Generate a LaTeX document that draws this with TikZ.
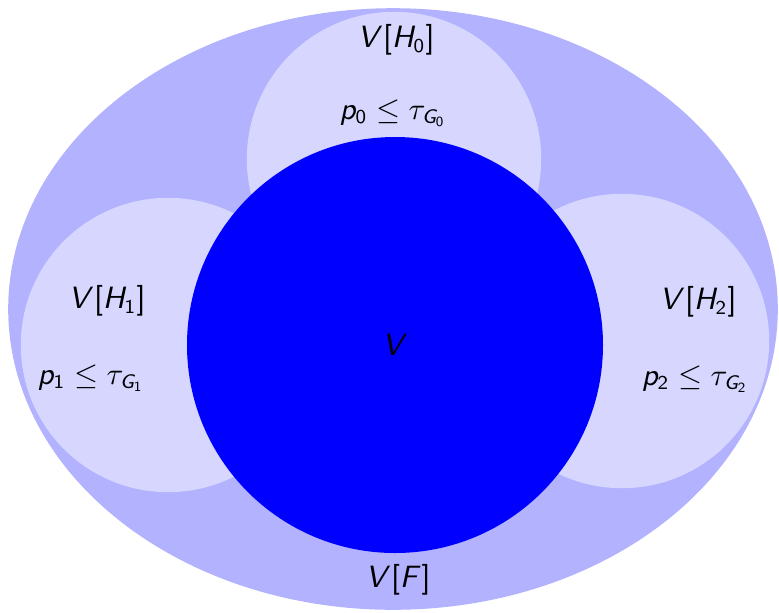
\documentclass[tikz,border=0pt]{standalone}
\usepackage{amsmath,amssymb}
\usepackage{tikz}
\usetikzlibrary{positioning}

% sans serif math letters and digits
\DeclareSymbolFont{sfletters}{OT1}{cmss}{m}{sl}
\DeclareSymbolFont{sfdigits}{OT1}{cmss}{m}{n}
\DeclareMathSymbol{V}{\mathalpha}{sfletters}{`V}
\DeclareMathSymbol{H}{\mathalpha}{sfletters}{`H}
\DeclareMathSymbol{F}{\mathalpha}{sfletters}{`F}
\DeclareMathSymbol{G}{\mathalpha}{sfletters}{`G}
\DeclareMathSymbol{p}{\mathalpha}{sfletters}{`p}
\DeclareMathSymbol{0}{\mathalpha}{sfdigits}{`0}
\DeclareMathSymbol{1}{\mathalpha}{sfdigits}{`1}
\DeclareMathSymbol{2}{\mathalpha}{sfdigits}{`2}
\DeclareMathSymbol{[}{\mathopen}{sfdigits}{`[}
\DeclareMathSymbol{]}{\mathclose}{sfdigits}{`]}

\begin{document}
\begin{tikzpicture}[
  x=0.125mm, y=-0.125mm,
  font=\fontsize{10.5}{12}\selectfont,
  outer/.style={fill=blue!30},
  part/.style={circle, fill=blue!16, inner sep=0pt, minimum size=36.8mm},
  core/.style={circle, fill=blue, inner sep=0pt, minimum size=52mm},
]
\useasboundingbox (0,0) rectangle (779,612);
\fill[outer] (393,309) ellipse [x radius=48.1mm, y radius=37.6mm];

\node[part] (H0) at (394,159) {};
\node[part] (H1) at (168,345) {};
\node[part] (H2) at (622,341) {};
\node[core] (V) at (395,345) {};

\node (lV) at (V.center) {$V$};
\node (lH0) at (396,40) {$V[H_0]$};
\node (lp0) at (393,113) {$p_0 \leq \tau_{G_0}$};
\node (lH1) at (107,301) {$V[H_1]$};
\node (lp1) at (91,378) {$p_1 \leq \tau_{G_1}$};
\node (lH2) at (698,302) {$V[H_2]$};
\node (lp2) at (695,379) {$p_2 \leq \tau_{G_2}$};
\node (lF) at (398,580) {$V[F]$};
\end{tikzpicture}
\end{document}
